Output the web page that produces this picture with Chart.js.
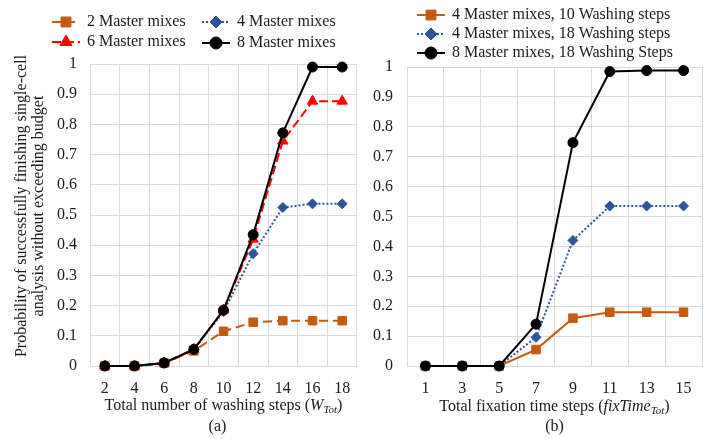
<!DOCTYPE html>
<html>
<head>
<meta charset="utf-8">
<script src="https://cdn.jsdelivr.net/npm/chart.js@4/dist/chart.umd.min.js"></script>
<style>
  html, body { margin: 0; padding: 0; background: #fff; }
  #wrap { position: relative; width: 714px; height: 439px; overflow: hidden; }
  #chartA { position: absolute; left: 0; top: 0; }
  #chartB { position: absolute; left: 360px; top: 0; }
</style>
</head>
<body>
<div id="wrap">
  <canvas id="chartA" width="364" height="439"></canvas>
  <canvas id="chartB" width="354" height="439"></canvas>
</div>
<script>
/* ========= DATA ========= */
const washSteps = ["2", "4", "6", "8", "10", "12", "14", "16", "18"];
const mm2 = [0, 0, 0.01, 0.05, 0.115, 0.145, 0.15, 0.15, 0.15];
const mm4 = [0, 0, 0.01, 0.055, 0.18, 0.372, 0.525, 0.537, 0.537];
const mm6 = [0, 0, 0.01, 0.055, 0.185, 0.42, 0.745, 0.877, 0.877];
const mm8 = [0, 0, 0.01, 0.055, 0.185, 0.435, 0.772, 0.99, 0.99];

const fixSteps = ["1", "3", "5", "7", "9", "11", "13", "15"];
const mm4ws10 = [0, 0, 0, 0.055, 0.16, 0.18, 0.18, 0.18];
const mm4ws18 = [0, 0, 0, 0.096, 0.42, 0.535, 0.535, 0.535];
const mm8ws18 = [0, 0, 0, 0.14, 0.747, 0.985, 0.988, 0.988];

const ORANGE = "#C55A11";
const BLUE = "#2F5597";
const RED = "#FF0000";
const BLACK = "#000000";
const TEXT = "#1a1a1a";
const GRID = "#d9d9d9";
const SERIF = '"Liberation Serif", "Times New Roman", serif';

Chart.defaults.font.family = SERIF;
Chart.defaults.font.size = 16;
Chart.defaults.color = TEXT;

/* ========= PLUGINS ========= */
// legend in excel style: short line with the marker on it
const lineLegend = {
  id: "lineLegend",
  afterDraw(chart, args, opts) {
    const ctx = chart.ctx;
    ctx.save();
    chart.data.datasets.forEach((ds, i) => {
      const s = opts.slots[i];
      if (!s) return;
      ctx.strokeStyle = ds.borderColor;
      ctx.lineWidth = ds.borderWidth;
      ctx.setLineDash(ds.borderDash || []);
      ctx.beginPath();
      ctx.moveTo(s.x, s.y);
      ctx.lineTo(s.x + 28, s.y);
      ctx.stroke();
      ctx.setLineDash([]);
      ctx.fillStyle = ds.pointBackgroundColor;
      ctx.strokeStyle = ds.pointBorderColor;
      ctx.lineWidth = 1;
      Chart.helpers.drawPoint(ctx, {
        pointStyle: ds.pointStyle,
        radius: ds.pointRadius + 1,
        rotation: 0,
        borderWidth: 1
      }, s.x + 14, s.y);
      ctx.fillStyle = TEXT;
      ctx.font = "16px " + SERIF;
      ctx.textAlign = "left";
      ctx.textBaseline = "middle";
      ctx.fillText(ds.label, s.x + 35, s.y);
    });
    ctx.restore();
  }
};

// draws a run of text pieces (for italic / subscript parts) centred on cx
function drawRich(ctx, parts, cx, y) {
  let total = 0;
  parts.forEach(p => {
    ctx.font = p.font;
    total += ctx.measureText(p.t).width;
  });
  let x = cx - total / 2;
  parts.forEach(p => {
    ctx.font = p.font;
    ctx.fillText(p.t, x, y + (p.dy || 0));
    x += ctx.measureText(p.t).width;
  });
}

const axisText = {
  id: "axisText",
  afterDraw(chart, args, opts) {
    const ctx = chart.ctx;
    const area = chart.chartArea;
    const cx = (area.left + area.right) / 2;
    ctx.save();
    ctx.fillStyle = TEXT;
    ctx.textAlign = "left";
    ctx.textBaseline = "middle";
    drawRich(ctx, opts.xTitle, cx, opts.xTitleY);
    ctx.textAlign = "center";
    ctx.font = "16px " + SERIF;
    ctx.fillText(opts.caption, cx + opts.captionDx, opts.captionY);
    if (opts.yTitle) {
      opts.yTitle.forEach((line, i) => {
        ctx.save();
        ctx.translate(opts.yTitleX[i], opts.yTitleY);
        ctx.rotate(-Math.PI / 2);
        ctx.fillText(line, 0, 0);
        ctx.restore();
      });
    }
    ctx.restore();
  }
};

/* ========= HELPERS ========= */
function series(label, data, color, dash, style, radius, order) {
  return {
    label,
    data,
    borderColor: color,
    backgroundColor: color,
    borderWidth: 2,
    borderDash: dash,
    pointStyle: style,
    pointRadius: radius,
    pointHoverRadius: radius,
    pointBackgroundColor: color,
    pointBorderColor: color,
    pointBorderWidth: 1,
    tension: 0,
    clip: false,
    order
  };
}

function scales(yWidth, yPad) {
  return {
    x: {
      offset: true,
      grid: { color: GRID, offset: true, drawTicks: false },
      border: { color: GRID },
      ticks: { padding: 13, maxRotation: 0, autoSkip: false },
      afterFit: s => { s.height = 73; }
    },
    y: {
      min: 0,
      max: 1,
      grid: { color: GRID, drawTicks: false },
      border: { color: GRID },
      ticks: {
        stepSize: 0.1,
        padding: yPad,
        callback: v => String(Math.round(v * 10) / 10)
      },
      afterFit: s => { s.width = yWidth; }
    }
  };
}

/* ========= CHART (a) ========= */
new Chart(document.getElementById("chartA"), {
  type: "line",
  data: {
    labels: washSteps,
    datasets: [
      series("2 Master mixes", mm2, ORANGE, [9, 5], "rect", 6, 3),
      series("4 Master mixes", mm4, BLUE, [2, 2], "rectRot", 5, 2),
      series("6 Master mixes", mm6, RED, [9, 4], "triangle", 6, 1),
      series("8 Master mixes", mm8, BLACK, [], "circle", 5, 0)
    ]
  },
  options: {
    responsive: false,
    animation: false,
    layout: { padding: { top: 64, right: 2, bottom: 0, left: 0 } },
    scales: scales(90, 13),
    plugins: {
      legend: { display: false },
      tooltip: { enabled: false },
      lineLegend: {
        slots: [{ x: 52, y: 22 }, { x: 202, y: 22 }, { x: 52, y: 42 }, { x: 202, y: 43 }]
      },
      axisText: {
        xTitle: [
          { t: "Total number of washing steps (", font: "16px " + SERIF },
          { t: "W", font: "italic 16px " + SERIF },
          { t: "Tot", font: "italic 11px " + SERIF, dy: 4 },
          { t: ")", font: "16px " + SERIF }
        ],
        xTitleY: 406,
        caption: "(a)",
        captionDx: -6,
        captionY: 427,
        yTitle: ["Probability of successfully finishing single-cell", "analysis without exceeding budget"],
        yTitleX: [22, 39],
        yTitleY: 206
      }
    }
  },
  plugins: [lineLegend, axisText]
});

/* ========= CHART (b) ========= */
new Chart(document.getElementById("chartB"), {
  type: "line",
  data: {
    labels: fixSteps,
    datasets: [
      series("4 Master mixes, 10 Washing steps", mm4ws10, ORANGE, [], "rect", 6, 2),
      series("4 Master mixes, 18 Washing steps", mm4ws18, BLUE, [2, 2], "rectRot", 5, 1),
      series("8 Master mixes, 18 Washing Steps", mm8ws18, BLACK, [], "circle", 5, 0)
    ]
  },
  options: {
    responsive: false,
    animation: false,
    layout: { padding: { top: 67, right: 12, bottom: 0, left: 0 } },
    scales: scales(47, 14),
    plugins: {
      legend: { display: false },
      tooltip: { enabled: false },
      lineLegend: {
        slots: [{ x: 57, y: 15 }, { x: 57, y: 34 }, { x: 57, y: 53 }]
      },
      axisText: {
        xTitle: [
          { t: "Total fixation time steps (", font: "16px " + SERIF },
          { t: "fixTime", font: "italic 16px " + SERIF },
          { t: "Tot", font: "italic 11px " + SERIF, dy: 4 },
          { t: ")", font: "16px " + SERIF }
        ],
        xTitleY: 407,
        caption: "(b)",
        captionDx: 0,
        captionY: 427
      }
    }
  },
  plugins: [lineLegend, axisText]
});
</script>
</body>
</html>
